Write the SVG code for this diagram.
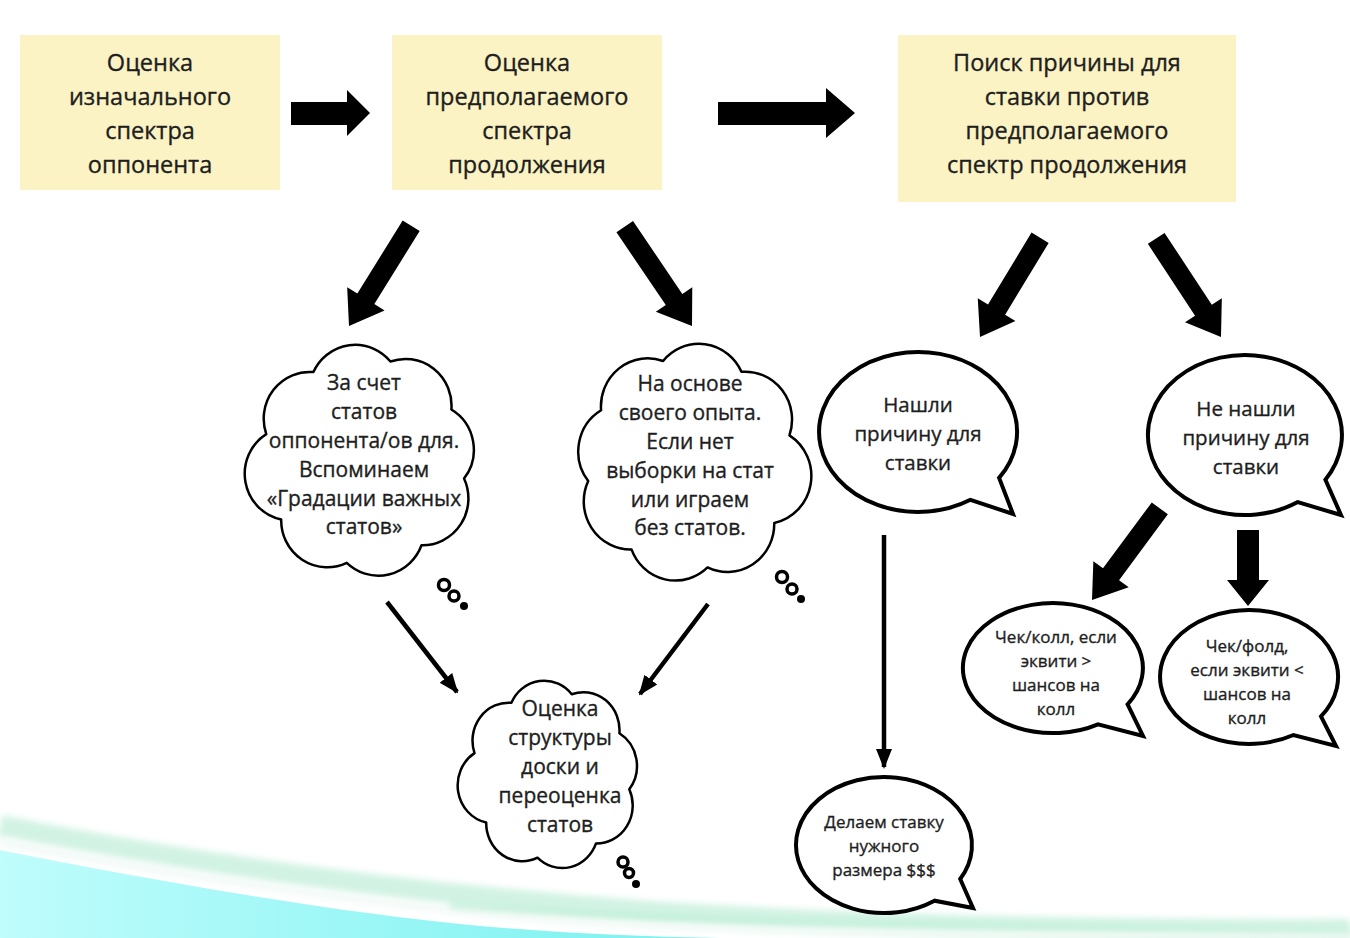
<svg xmlns="http://www.w3.org/2000/svg" xmlns:xlink="http://www.w3.org/1999/xlink" width="1350" height="938" viewBox="0 0 1350 938">
<style>
  .box { fill: #FBF3C4; }
  .t { font-family: "Open Sans", "Noto Sans", sans-serif; fill: #1e1e1e; stroke: #1e1e1e; stroke-width: 0.35; text-anchor: middle; }
  .tb { font-size: 23.5px; }
  .tc { font-size: 21px; }
  .ts { font-size: 20.5px; }
  .tm { font-size: 17px; }
  .outline { fill: #fff; stroke: #000; stroke-width: 2.5; vector-effect: non-scaling-stroke; stroke-linejoin: round; }
  .bubble { fill: #fff; stroke: #000; stroke-width: 4; stroke-linejoin: miter; }
  .blk { fill: #000; }
  .thin { stroke: #000; stroke-width: 4.5; fill: none; }
  .ring { fill: none; stroke: #000; stroke-width: 3.5; }
</style>
<defs>
  <path id="cloud" class="outline" d="M -85,-23 A 40 40 0 0 1 -44,-76 A 40 40 0 0 1 23,-85 A 40 40 0 0 1 76,-44 A 40 40 0 0 1 87,15 A 40 40 0 0 1 50,72 A 40 40 0 0 1 -15,87 A 40 40 0 0 1 -72,50 A 40 40 0 0 1 -85,-23 Z"/>
  <marker id="ah" markerUnits="userSpaceOnUse" markerWidth="20" markerHeight="20" viewBox="0 0 20 20" refX="18" refY="10" orient="auto">
    <path d="M0,2 L20,10 L0,18 Z" fill="#000"/>
  </marker>
  <linearGradient id="cyan" x1="0" y1="0" x2="1" y2="0">
    <stop offset="0" stop-color="#bffcfc"/>
    <stop offset="1" stop-color="#78f2f0"/>
  </linearGradient>
  <filter id="soft" x="-5%" y="-50%" width="110%" height="200%">
    <feGaussianBlur stdDeviation="3"/>
  </filter>
</defs>

<!-- background swoosh -->
<g id="background">
  <rect x="0" y="0" width="1350" height="938" fill="#fff"/>
  <path d="M0,850 C150,880 330,912 480,926 C560,933 640,937 720,938 L0,938 Z" fill="url(#cyan)"/>
  <path d="M0,826 C180,862 400,893 650,912 C900,928 1150,931 1350,930" fill="none" stroke="#d2f3e4" stroke-width="22" filter="url(#soft)"/>
  <path d="M0,842 C180,875 360,904 560,920 C800,935 1100,934 1350,933" fill="none" stroke="#f4fbf8" stroke-width="10" filter="url(#soft)"/>
  <path d="M450,905 C650,920 900,928 1350,930" fill="none" stroke="#bdeed6" stroke-width="5" filter="url(#soft)"/>
</g>

<!-- top boxes -->
<g id="box1">
  <rect class="box" x="20" y="35" width="260" height="155"/>
  <text class="t tb" x="150" y="71">Оценка</text>
  <text class="t tb" x="150" y="105">изначального</text>
  <text class="t tb" x="150" y="139">спектра</text>
  <text class="t tb" x="150" y="173">оппонента</text>
</g>
<g id="box2">
  <rect class="box" x="392" y="35" width="270" height="155"/>
  <text class="t tb" x="527" y="71">Оценка</text>
  <text class="t tb" x="527" y="105">предполагаемого</text>
  <text class="t tb" x="527" y="139">спектра</text>
  <text class="t tb" x="527" y="173">продолжения</text>
</g>
<g id="box3">
  <rect class="box" x="898" y="35" width="338" height="167"/>
  <text class="t tb" x="1067" y="71">Поиск причины для</text>
  <text class="t tb" x="1067" y="105">ставки против</text>
  <text class="t tb" x="1067" y="139">предполагаемого</text>
  <text class="t tb" x="1067" y="173">спектр продолжения</text>
</g>

<!-- clouds -->
<g id="cloud1">
  <use xlink:href="#cloud" transform="translate(364,461) scale(1.15,1.17)"/>
  <circle class="ring" cx="444" cy="585" r="5.5"/>
  <circle class="ring" cx="454" cy="596" r="5"/>
  <circle cx="464" cy="606" r="4" fill="#000"/>
  <text class="t tc" x="364" y="390">За счет</text>
  <text class="t tc" x="364" y="419">статов</text>
  <text class="t tc" x="364" y="448">оппонента/ов для.</text>
  <text class="t tc" x="364" y="477">Вспоминаем</text>
  <text class="t tc" x="364" y="506">«Градации важных</text>
  <text class="t tc" x="364" y="534">статов»</text>
</g>
<g id="cloud2">
  <use xlink:href="#cloud" transform="translate(690,463) scale(-1.17,1.2)"/>
  <circle class="ring" cx="782" cy="577" r="5.5"/>
  <circle class="ring" cx="792" cy="589" r="5"/>
  <circle cx="801" cy="599" r="4" fill="#000"/>
  <text class="t tc" x="690" y="391">На основе</text>
  <text class="t tc" x="690" y="420">своего опыта.</text>
  <text class="t tc" x="690" y="449">Если нет</text>
  <text class="t tc" x="690" y="478">выборки на стат</text>
  <text class="t tc" x="690" y="507">или играем</text>
  <text class="t tc" x="690" y="535">без статов.</text>
</g>
<g id="cloud3">
  <use xlink:href="#cloud" transform="translate(551,775) scale(0.9,0.95)"/>
  <circle class="ring" cx="623" cy="862" r="5"/>
  <circle class="ring" cx="629" cy="873" r="4.5"/>
  <circle cx="636" cy="884" r="4" fill="#000"/>
  <text class="t tc" x="560" y="716">Оценка</text>
  <text class="t tc" x="560" y="745">структуры</text>
  <text class="t tc" x="560" y="774">доски и</text>
  <text class="t tc" x="560" y="803">переоценка</text>
  <text class="t tc" x="560" y="832">статов</text>
</g>

<!-- speech bubbles -->
<g id="bubble1">
  <path class="bubble" d="M999.1,477.9 L1013,514 L970.5,499.8 A99,80 0 1 1 999.1,477.9 Z"/>
  <text class="t ts" x="918" y="412">Нашли</text>
  <text class="t ts" x="918" y="441">причину для</text>
  <text class="t ts" x="918" y="470">ставки</text>
</g>
<g id="bubble2">
  <path class="bubble" d="M1325.4,479.7 L1341,515 L1297.8,502.1 A97,80 0 1 1 1325.4,479.7 Z"/>
  <text class="t ts" x="1246" y="416">Не нашли</text>
  <text class="t ts" x="1246" y="445">причину для</text>
  <text class="t ts" x="1246" y="474">ставки</text>
</g>
<g id="bubble3">
  <path class="bubble" d="M1127.6,704.3 L1143,736 L1098,724.3 A90,65 0 1 1 1127.6,704.3 Z"/>
  <text class="t tm" x="1056" y="643">Чек/колл, если</text>
  <text class="t tm" x="1056" y="667">эквити &gt;</text>
  <text class="t tm" x="1056" y="691">шансов на</text>
  <text class="t tm" x="1056" y="715">колл</text>
</g>
<g id="bubble4">
  <path class="bubble" d="M1321,716.4 L1336,746 L1293.5,735 A89,67 0 1 1 1321,716.4 Z"/>
  <text class="t tm" x="1247" y="652">Чек/фолд,</text>
  <text class="t tm" x="1247" y="676">если эквити &lt;</text>
  <text class="t tm" x="1247" y="700">шансов на</text>
  <text class="t tm" x="1247" y="724">колл</text>
</g>
<g id="bubble5">
  <path class="bubble" d="M960.2,879 L973,908 L934.5,900.7 A88,68 0 1 1 960.2,879 Z"/>
  <text class="t tm" x="884" y="828">Делаем ставку</text>
  <text class="t tm" x="884" y="852">нужного</text>
  <text class="t tm" x="884" y="876">размера $$$</text>
</g>

<!-- connectors -->
<g id="connectors">
  <polygon class="blk" points="291,102 347,102 347,90 370,113 347,136 347,125 291,125"/>
  <polygon class="blk" points="718,102 826,102 826,88 855,113 826,138 826,125 718,125"/>
  <polygon class="blk" transform="translate(349,326) rotate(121.8)" points="-118,-10 -32,-10 -32,-22 0,0 -32,22 -32,10 -118,10"/>
  <polygon class="blk" transform="translate(692,326) rotate(55.9)" points="-120,-10 -32,-10 -32,-22 0,0 -32,22 -32,10 -120,10"/>
  <polygon class="blk" transform="translate(980,337) rotate(121.2)" points="-116,-10 -32,-10 -32,-22 0,0 -32,22 -32,10 -116,10"/>
  <polygon class="blk" transform="translate(1221,337) rotate(56.7)" points="-118,-10 -32,-10 -32,-22 0,0 -32,22 -32,10 -118,10"/>
  <polygon class="blk" transform="translate(1092,600) rotate(126.5)" points="-114,-10 -32,-10 -32,-22 0,0 -32,22 -32,10 -114,10"/>
  <polygon class="blk" transform="translate(1248,606) rotate(90)" points="-76,-11 -26,-11 -26,-21 0,0 -26,21 -26,11 -76,11"/>
  <line class="thin" x1="387" y1="602" x2="457" y2="692" marker-end="url(#ah)"/>
  <line class="thin" x1="708" y1="604" x2="640" y2="694" marker-end="url(#ah)"/>
  <line class="thin" x1="884" y1="535" x2="884" y2="767" marker-end="url(#ah)"/>
</g>
</svg>
